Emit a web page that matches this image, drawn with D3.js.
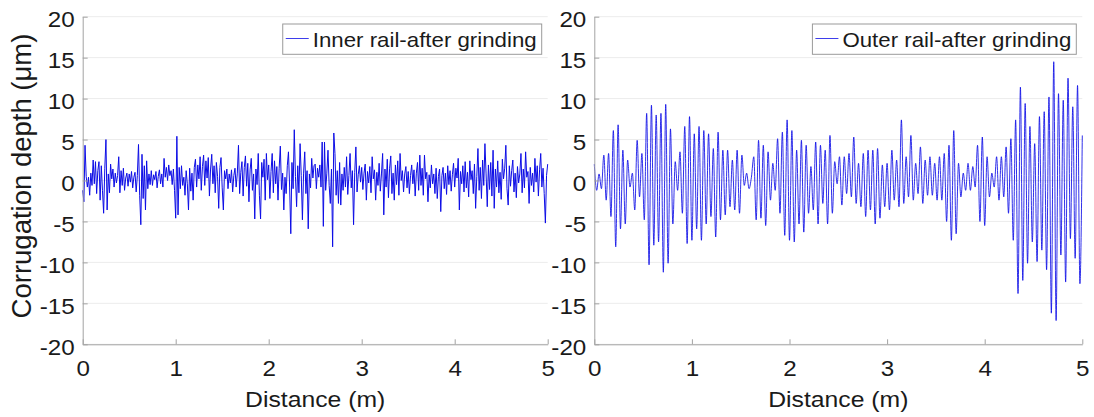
<!DOCTYPE html>
<html>
<head>
<meta charset="utf-8">
<script src="https://cdn.jsdelivr.net/npm/d3@7"></script>
<style>
  html, body { margin: 0; padding: 0; background: #fff; }
  svg { display: block; font-family: "Liberation Sans", Arial, Helvetica, sans-serif; }
</style>
</head>
<body>
<svg id="chart" width="1094" height="417"></svg>
<script>
// Axis ticks
const distanceTicks = [0, 1, 2, 3, 4, 5];
const depthTicks = [-20, -15, -10, -5, 0, 5, 10, 15, 20];

// Legend labels
const seriesNames = ["Inner rail-after grinding", "Outer rail-after grinding"];

// Inner rail profile, corrugation depth (µm) sampled every 0.0125 m from 0 to 5 m
const innerStep = 0.0125;
const innerDepth = [
  -1.2, -2.6, 4.3, 0.5, -0.8, 0.4, -1.8, 0.9, -0.6, 2.5, -0.4, 2.3, -1.6, 1.2, 2.3, -2.4, 1.8, -1.2, -4.0, 1.5,
  5.0, -3.6, 0.8, -1.5, 2.0, 0.2, 1.4, -0.8, 0.9, -0.3, 0.6, 2.9, -1.5, 1.2, -0.6, 1.5, -1.2, 0.3, 0.9, -0.7,
  0.8, -0.2, 1.1, -0.9, 0.4, 1.0, -1.4, 0.6, 4.4, -1.8, -5.4, 3.2, -2.2, 1.8, -3.6, 2.4, -1.0, 0.8, -0.5, 1.2,
  -0.6, 0.7, 0.1, 1.1, -0.9, 0.5, 1.3, -0.4, 0.8, -0.8, 2.7, 0.4, 1.6, 0.0, 1.9, 0.6, 1.2, -0.5, 1.4, -1.2,
  -4.6, 5.4, -4.2, 1.6, -1.0, 1.8, -0.6, 0.4, -1.8, 1.2, -0.4, -3.6, 1.5, -1.3, 0.9, -2.4, 1.6, 2.6, -0.8, 1.9,
  0.2, 2.9, -1.2, 1.7, 3.1, -0.6, 2.4, 0.3, 2.8, -1.9, 1.4, 3.2, -0.4, 1.8, -1.5, 2.2, 0.5, -3.4, 1.6, 2.8,
  -0.9, -3.6, 1.2, 0.2, 1.4, -1.0, 0.8, -0.3, 1.3, -1.4, 0.6, 1.5, -0.8, 0.9, 4.3, -1.6, 1.0, 2.3, -1.9, 1.6,
  3.0, -0.7, 2.1, -2.6, 1.3, 2.7, -1.2, 0.8, -4.7, 1.4, -0.5, 3.3, -1.8, -4.7, 2.2, 0.4, 2.6, -2.4, 3.3, 0.1,
  1.9, -2.2, 1.1, 3.3, -1.5, 2.4, -0.4, 1.7, -2.4, 1.5, 4.2, -1.1, 0.9, -3.6, 0.4, -1.6, 1.8, 3.5, -0.8, -6.5,
  2.2, -1.0, 6.2, 0.5, -3.2, 1.8, -1.5, 4.5, 0.6, -4.8, 0.9, 3.5, -1.6, 1.2, -5.9, 0.8, -0.9, 2.7, 0.3, 1.8,
  2.0, -1.0, 1.5, 0.4, 1.9, -0.8, 4.7, -5.6, 4.7, -1.2, 0.9, 3.7, -0.6, -2.8, 1.4, -8.1, 5.8, 3.3, -1.8, 1.2,
  -2.8, 2.2, -3.0, 0.8, -1.2, 1.6, -0.8, 2.9, -1.7, 0.6, 3.3, -0.9, 1.2, -5.4, 1.0, 4.1, -1.4, 0.7, 1.8, -0.2,
  1.6, -1.1, 0.9, 2.0, -2.4, 1.1, -0.3, 1.7, -1.5, 2.9, 0.2, 1.3, -2.4, 1.0, -0.6, 2.1, -1.3, 0.8, 3.3, -4.2,
  1.4, -0.8, 2.6, -2.1, 1.5, 3.0, -1.6, 0.9, -2.4, 1.9, -0.5, 2.4, -1.8, 3.3, 0.0, 1.2, -1.4, 0.8, 1.7, -0.9,
  1.1, -1.6, 0.6, 1.9, -0.4, 1.3, -1.9, 0.9, 2.2, -1.2, 3.1, -0.6, 1.5, -1.8, 3.1, 0.2, 1.0, -2.6, 0.7, -0.9,
  1.9, -0.4, 0.8, -1.6, 1.5, -2.2, 0.5, 1.4, -3.8, 0.6, 1.6, -1.0, 0.9, -1.7, 1.8, -0.5, 1.2, -1.3, 0.7, 2.1,
  -0.8, 1.5, 0.3, 2.7, -3.6, 1.1, -0.4, 1.8, -1.4, 2.3, -0.9, 1.0, -2.0, 2.4, 0.1, 1.2, -1.6, 2.0, -3.4, 0.5,
  3.9, -1.2, 1.6, -2.2, 2.5, -0.6, 4.5, 0.8, -3.2, 1.9, -1.1, 2.2, -1.9, 3.7, -3.4, 1.4, -0.8, 2.4, -1.5, 1.0,
  -2.3, 2.6, 0.2, 1.5, 4.3, -1.0, -3.0, 1.8, -0.7, 1.2, 2.5, -1.4, 0.9, -2.1, 1.7, -0.3, 0.8, 3.3, -1.5, 1.4,
  -0.9, 3.5, 0.4, 1.1, -2.8, 1.6, -0.6, 0.9, -1.4, 2.7, -0.2, 1.8, -1.9, 1.3, 3.3, -0.8, 1.5, -1.6, -5.2, 0.6,
  2.0
];

// Outer rail profile, corrugation depth (µm) at successive crests and troughs from 0 to 5 m
const outerStep = 5 / 205;
const outerDepth = [
  2.0, -1.2, 0.8, -1.0, 3.1, -2.4, 3.3, -4.4, 6.1, -8.1,
  6.8, -5.9, 3.7, -5.3, 2.5, -0.8, 0.9, -3.6, 4.9, -2.0,
  3.3, -4.8, 8.2, -10.3, 9.2, -7.9, 8.0, -7.5, 8.2, -11.2,
  9.3, -10.1, 6.3, -5.3, 2.3, -1.2, 3.5, -4.0, 6.6, -7.7,
  7.8, -7.3, 5.7, -5.9, 6.6, -7.3, 6.1, -5.3, 5.7, -4.4,
  3.9, -6.9, 5.9, -4.8, 3.7, -4.2, 3.7, -3.2, 2.5, -3.6,
  3.7, -4.0, 3.1, -0.6, 0.9, -1.0, 0.4, 2.9, -4.8, 4.9,
  -4.6, 4.3, -5.5, 3.5, -2.4, 2.1, -1.2, 5.1, -4.0, 5.9,
  -6.7, 7.4, -7.3, 6.1, -7.5, 3.7, -5.3, 4.9, -6.3, 4.3,
  -4.0, 1.7, -3.6, 4.7, -5.3, 4.3, -2.8, 3.7, -5.3, 5.5,
  -4.0, 2.3, -0.4, 2.9, -3.0, 2.9, -1.6, 3.3, -2.0, 5.3,
  -2.8, 2.1, -3.2, 3.3, -4.4, 3.7, -3.6, 3.7, -5.3, 3.9,
  -4.6, 1.9, -3.2, 2.1, -3.6, 3.7, -2.4, 2.5, -3.2, 7.4,
  -2.8, 2.9, -2.0, 5.5, -2.4, 2.1, -1.6, 4.1, -2.8, 2.5,
  -1.8, 2.9, -1.8, 2.1, -2.4, 2.9, -2.4, 3.3, -5.0, 4.3,
  -7.3, 6.1, -6.5, 2.1, -2.0, 0.9, -1.2, 2.1, -1.2, 1.7,
  -0.8, 4.3, -5.0, 5.3, -5.5, 2.9, -2.0, 0.9, -0.8, 2.9,
  -2.4, 2.9, -2.0, 4.1, -4.0, 5.1, -7.3, 7.4, -13.8, 11.4,
  -12.2, 9.4, -10.1, 6.6, -7.5, 4.5, -9.9, 7.8, -8.5, 8.4,
  -10.9, 10.2, -16.2, 14.5, -17.1, 10.6, -9.1, 9.8, -12.4, 12.5,
  -7.1, 9.0, -9.5, 11.6, -12.6, 5.5
];

const svg = d3.select("#chart");

const AXIS_COLOR = "#a3a3a3";
const GRID_COLOR = "#ececec";
const TEXT_COLOR = "#1a1a1a";
const TRACE_COLOR = "#0c0ce6";
const STRETCH = 1.1;   // glyphs in this figure are set slightly wide

const plotTop = 16.7, plotBottom = 344.3;

const panels = [
  { left: 82.7, right: 547.7, values: innerDepth, step: innerStep, name: seriesNames[0],
    yLabel: true, curve: d3.curveLinear, width: 1.0 },
  { left: 594.3, right: 1082.3, values: outerDepth, step: outerStep, name: seriesNames[1],
    yLabel: false, curve: d3.curveMonotoneX, width: 0.85 }
];

function widen(sel) {
  sel.each(function () {
    const len = this.getComputedTextLength();
    d3.select(this).attr("textLength", len * STRETCH).attr("lengthAdjust", "spacingAndGlyphs");
  });
}

const plain = d => String(d);

panels.forEach(p => {
  const x = d3.scaleLinear().domain([0, 5]).range([p.left, p.right]);
  const y = d3.scaleLinear().domain([-20, 20]).range([plotBottom, plotTop]);
  const g = svg.append("g");

  // horizontal grid
  g.append("g")
    .selectAll("line")
    .data(depthTicks)
    .join("line")
    .attr("x1", p.left).attr("x2", p.right)
    .attr("y1", d => y(d)).attr("y2", d => y(d))
    .attr("stroke", GRID_COLOR)
    .attr("stroke-width", 1);

  // profile trace
  const line = d3.line()
    .x((d, i) => x(i * p.step))
    .y(d => y(d))
    .curve(p.curve);
  g.append("path")
    .datum(p.values)
    .attr("d", line)
    .attr("fill", "none")
    .attr("stroke", TRACE_COLOR)
    .attr("stroke-width", p.width)
    .attr("stroke-linejoin", "round");

  // x axis
  const xAxis = g.append("g")
    .attr("transform", `translate(0,${plotBottom})`)
    .call(d3.axisBottom(x).tickValues(distanceTicks).tickFormat(plain)
      .tickSizeInner(-5).tickSizeOuter(0).tickPadding(16));
  xAxis.select(".domain").attr("stroke", AXIS_COLOR);
  xAxis.selectAll(".tick line").attr("stroke", AXIS_COLOR);
  xAxis.selectAll(".tick text")
    .attr("fill", TEXT_COLOR)
    .style("font-size", "22px")
    .style("font-family", "'Liberation Sans', Arial, sans-serif")
    .call(widen);

  // y axis
  const yAxis = g.append("g")
    .attr("transform", `translate(${p.left},0)`)
    .call(d3.axisLeft(y).tickValues(depthTicks).tickFormat(plain)
      .tickSizeInner(-5).tickSizeOuter(0).tickPadding(8));
  yAxis.select(".domain").attr("stroke", AXIS_COLOR);
  yAxis.selectAll(".tick line").attr("stroke", AXIS_COLOR);
  yAxis.selectAll(".tick text")
    .attr("fill", TEXT_COLOR)
    .attr("dy", "0.45em")
    .style("font-size", "22px")
    .style("font-family", "'Liberation Sans', Arial, sans-serif")
    .call(widen);

  // x axis title
  g.append("text")
    .attr("x", (p.left + p.right) / 2)
    .attr("y", 407)
    .attr("text-anchor", "middle")
    .attr("fill", TEXT_COLOR)
    .style("font-size", "22.5px")
    .text("Distance (m)")
    .call(widen);

  // y axis title
  if (p.yLabel) {
    g.append("text")
      .attr("transform", `translate(31,176) rotate(-90)`)
      .attr("text-anchor", "middle")
      .attr("fill", TEXT_COLOR)
      .style("font-size", "27.5px")
      .text("Corrugation depth (μm)");
  }

  // legend
  const lg = g.append("g");
  const box = lg.append("rect")
    .attr("fill", "#fff")
    .attr("stroke", "#9a9a9a")
    .attr("stroke-width", 1);
  const label = lg.append("text")
    .attr("fill", TEXT_COLOR)
    .style("font-size", "21px")
    .text(p.name);
  const rawLen = label.node().getComputedTextLength();
  label.attr("textLength", rawLen * 1.06).attr("lengthAdjust", "spacingAndGlyphs");
  const boxW = rawLen * 1.06 + 35;
  const boxX = p.right - 6 - boxW;
  box.attr("x", boxX).attr("y", 24).attr("width", boxW).attr("height", 30.3);
  label.attr("x", boxX + 30).attr("y", 46.8);
  lg.append("line")
    .attr("x1", boxX + 3).attr("x2", boxX + 26)
    .attr("y1", 38.5).attr("y2", 38.5)
    .attr("stroke", TRACE_COLOR)
    .attr("stroke-width", 0.8);
});
</script>
</body>
</html>
